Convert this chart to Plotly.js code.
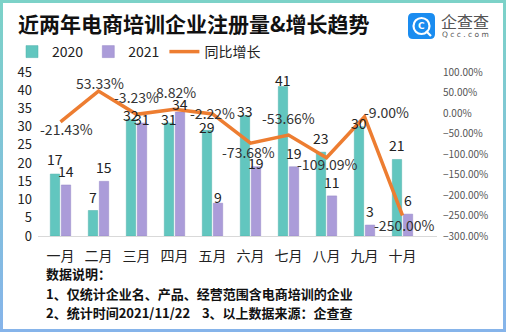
<!DOCTYPE html>
<html>
<head>
<meta charset="utf-8">
<script src="https://cdn.plot.ly/plotly-3.0.1.min.js"></script>
<style>
html,body{margin:0;padding:0;background:#fff;}
#wrap{position:relative;width:506px;height:332px;}
#chart{width:506px;height:332px;}
#frame{position:absolute;left:0;top:0;width:506px;height:332px;box-sizing:border-box;border:3px solid;border-image:linear-gradient(to bottom,#7cd2c8,#86b4ea) 1;pointer-events:none;}
</style>
</head>
<body>
<div id="wrap"><div id="chart"></div><div id="frame"></div></div>
<script>
const months = ['一月','二月','三月','四月','五月','六月','七月','八月','九月','十月'];
const reg2020 = [17,7,32,31,29,33,41,23,30,21];
const reg2021 = [14,15,31,34,9,19,19,11,3,6];
const growth = [-21.43,53.33,-3.23,8.82,-2.22,-73.68,-53.66,-109.09,-9.00,-250.00];
const seriesNames = ['2020','2021','同比增长'];

// label placement (pixels): growth labels [dx, dy(down)], bar labels gap above bar top
const labelOffsets = [[6,7],[1,-8],[0,-17],[1,-17],[0,-1],[-2,9],[0,-17],[1,6],[22,-5],[2,9]];
const gap2020 = [15,13.5,4.5,4,3.5,5,7,14,4,14.5];
const gap2021 = [14,14,4,8,6,4,14,14,14,14];

const W=506,H=332,L=38,R=437,T=72,B=236;
const px = x => (x-L)/(R-L);
const py = y => (B-y)/(B-T);
const FONT = '"Noto Sans CJK SC","Noto Sans",sans-serif';

function roundRect(x0,y0,x1,y1,r){
  const p=(x,y)=>px(x)+','+py(y);
  return 'M'+p(x0+r,y0)+' L'+p(x1-r,y0)+' Q'+p(x1,y0)+' '+p(x1,y0+r)+
    ' L'+p(x1,y1-r)+' Q'+p(x1,y1)+' '+p(x1-r,y1)+' L'+p(x0+r,y1)+
    ' Q'+p(x0,y1)+' '+p(x0,y1-r)+' L'+p(x0,y0+r)+' Q'+p(x0,y0)+' '+p(x0+r,y0)+' Z';
}

const traces = [
  {type:'bar', name:seriesNames[0], x:months, y:reg2020, marker:{color:'#62c6bf', line:{color:'#4fb0aa', width:0.5}}},
  {type:'bar', name:seriesNames[1], x:months, y:reg2021, marker:{color:'#ab9cd9', line:{color:'#9586c6', width:0.5}}},
  {type:'scatter', mode:'lines', name:seriesNames[2], x:months, y:growth, yaxis:'y2',
   line:{color:'#ed7d31', width:3.5}, cliponaxis:false}
];

const growthLabels = growth.map((v,i)=>({
  text:v.toFixed(2)+'%', x:months[i], y:v, xref:'x', yref:'y2', showarrow:false,
  xanchor:'center', yanchor:'middle', xshift:labelOffsets[i][0], yshift:-labelOffsets[i][1],
  font:{size:14, color:'#333', family:FONT}
}));
const barLabels = (vals, gaps, dx) => vals.map((v,i)=>({
  text:String(v), x:months[i], y:v, xref:'x', yref:'y', showarrow:false,
  xanchor:'center', yanchor:'middle', xshift:dx, yshift:gaps[i],
  font:{size:14, color:'#222', family:FONT}
}));

const layout = {
  width:W, height:H,
  margin:{l:L, r:W-R, t:T, b:H-B, pad:0},
  paper_bgcolor:'#fff', plot_bgcolor:'rgba(0,0,0,0)',
  font:{family:FONT, color:'#222'},
  title:{text:'<b>近两年电商培训企业注册量&amp;增长趋势</b>', xref:'container', yref:'container',
    x:18/W, xanchor:'left', y:1-25/H, yanchor:'middle', font:{size:21, color:'#111', family:FONT}},
  barmode:'group', bargap:0.42, bargroupgap:0.15,
  showlegend:true,
  legend:{orientation:'h', xref:'container', yref:'container', x:12/W, y:1-52/H, xanchor:'left', yanchor:'middle',
    font:{size:14, color:'#222', family:FONT}, itemwidth:30, tracegroupgap:0, bgcolor:'rgba(0,0,0,0)'},
  xaxis:{type:'category', showgrid:false, zeroline:false, showline:true, linecolor:'#d9d9d9', linewidth:1,
    ticks:'', tickfont:{size:14, color:'#222', family:FONT}, ticklabelstandoff:7, fixedrange:true},
  yaxis:{range:[0,45.001], tickvals:[0,5,10,15,20,25,30,35,40,45], showgrid:false, zeroline:false, showline:false, ticks:'',
    tickfont:{size:13, color:'#222', family:FONT}, ticklabelstandoff:5},
  yaxis2:{range:[-300,100], dtick:50, overlaying:'y', side:'right', showgrid:false, zeroline:false, showline:false,
    ticks:'', tickformat:'.2f', ticksuffix:'%', tickfont:{size:10, color:'#555', family:FONT}, ticklabelstandoff:5},
  shapes:[
    {type:'path', xref:'paper', yref:'paper', path:roundRect(408,13,435,39,5), fillcolor:'#1a8cf0', line:{width:0}},
    {type:'circle', xref:'paper', yref:'paper', x0:px(413.5), x1:px(429.5), y0:py(34), y1:py(18), line:{color:'#fff', width:2.2}, fillcolor:'rgba(0,0,0,0)'},
    {type:'line', xref:'paper', yref:'paper', x0:px(426), y0:py(31), x1:px(431), y1:py(36), line:{color:'#fff', width:2.2}}
  ],
  annotations:[
    {text:'<b>C</b>', xref:'paper', yref:'paper', x:px(421.5), y:py(26), xanchor:'center', yanchor:'middle', showarrow:false, font:{size:9, color:'#fff', family:'"DejaVu Sans",sans-serif'}},
    {text:'企查查', xref:'paper', yref:'paper', x:px(439), y:py(21), xanchor:'left', yanchor:'middle', showarrow:false, font:{size:16, color:'#555', family:FONT}},
    {text:'Q c c . c o m', xref:'paper', yref:'paper', x:px(440), y:py(34), xanchor:'left', yanchor:'middle', showarrow:false, font:{size:7.5, color:'#555', family:'"DejaVu Sans",sans-serif'}},
    {text:'<b>数据说明：</b>', xref:'paper', yref:'paper', x:px(44), y:py(273), xanchor:'left', yanchor:'middle', showarrow:false, font:{size:13, color:'#111', family:FONT}},
    {text:'<b>1、仅统计企业名、产品、经营范围含电商培训的企业</b>', xref:'paper', yref:'paper', x:px(44), y:py(293), xanchor:'left', yanchor:'middle', showarrow:false, font:{size:13, color:'#111', family:FONT}},
    {text:'<b>2、统计时间2021/11/22\u00a0\u00a0\u00a0\u00a03、以上数据来源：企查查</b>', xref:'paper', yref:'paper', x:px(44), y:py(312), xanchor:'left', yanchor:'middle', showarrow:false, font:{size:13, color:'#111', family:FONT}}
  ].concat(barLabels(reg2020,gap2020,-5.8), barLabels(reg2021,gap2021,5.8), growthLabels)
};

Plotly.newPlot('chart', traces, layout, {displayModeBar:false, staticPlot:true});
</script>
</body>
</html>
